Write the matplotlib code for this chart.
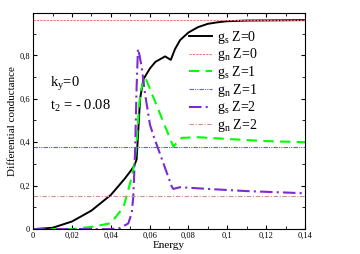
import matplotlib
matplotlib.use("Agg")
import matplotlib.pyplot as plt
from matplotlib.ticker import MultipleLocator, FuncFormatter

plt.rcParams['font.family'] = ['Liberation Serif', 'DejaVu Serif']
plt.rcParams['mathtext.fontset'] = 'custom'
plt.rcParams['mathtext.rm'] = 'Liberation Serif'
plt.rcParams['mathtext.it'] = 'Liberation Serif:italic'

# gs, Z=0
e_s0 = [0, 0.01, 0.02, 0.03, 0.04, 0.047, 0.05, 0.052, 0.0533, 0.0542, 0.0551, 0.0568,
        0.0602, 0.063, 0.0654, 0.068, 0.0709, 0.0731, 0.0757, 0.08, 0.085, 0.09, 0.095,
        0.1, 0.11, 0.14]
g_s0 = [0, 0.006, 0.035, 0.085, 0.157, 0.23, 0.265, 0.29, 0.32, 0.46, 0.60, 0.69,
        0.74, 0.77, 0.782, 0.795, 0.779, 0.829, 0.87, 0.905, 0.93, 0.945, 0.952,
        0.957, 0.96, 0.962]

# gs, Z=1
e_s1 = [0, 0.02, 0.03, 0.04, 0.0465, 0.049, 0.0508, 0.0525, 0.0535, 0.0545, 0.0555,
        0.0577, 0.0722, 0.0765, 0.085, 0.1, 0.12, 0.14]
g_s1 = [0, 0.0, 0.01, 0.027, 0.1, 0.18, 0.24, 0.32, 0.42, 0.56, 0.64,
        0.70, 0.38, 0.42, 0.423, 0.415, 0.405, 0.40]

# gs, Z=2
e_s2 = [0, 0.04, 0.0448, 0.049, 0.0508, 0.0516, 0.0525, 0.0533, 0.054, 0.0548, 0.056,
        0.0577, 0.0602, 0.062, 0.0714, 0.0722, 0.0757, 0.09, 0.11, 0.14]
g_s2 = [0, 0.0, 0.005, 0.026, 0.074, 0.15, 0.35, 0.65, 0.83, 0.80, 0.74,
        0.62, 0.48, 0.43, 0.196, 0.185, 0.193, 0.185, 0.175, 0.165]

# gn (flat normal-state values)
e_n = [0, 0.14]
g_n0 = [0.963, 0.963]
g_n1 = [0.378, 0.378]
g_n2 = [0.151, 0.151]

fig = plt.figure(figsize=(3.6, 2.54), dpi=100)
ax = fig.add_axes([0.092, 0.098, 0.755, 0.851])

ax.plot(e_s0, g_s0, color='black', lw=1.4, ls='-', label=r'g$_\mathrm{s}$ Z=0')
ax.plot(e_n, g_n0, color='#ff7070', lw=0.8, ls=(0, (2, 1)), label=r'g$_\mathrm{n}$ Z=0')
ax.plot(e_s1, g_s1, color='#00ff00', lw=1.5, ls=(0, (5, 3)), label=r'g$_\mathrm{s}$ Z=1')
ax.plot(e_n, g_n1, color='#5a5aff', lw=0.8, ls=(0, (4, 1, 1, 1, 1, 1)), label=r'g$_\mathrm{n}$ Z=1')
ax.plot(e_s2, g_s2, color='#7b2bd0', lw=1.5, ls=(0, (6, 2, 1, 2)), label=r'g$_\mathrm{s}$ Z=2')
ax.plot(e_n, g_n2, color='#c89090', lw=0.8, ls=(0, (4, 1.5, 1, 1.5)), label=r'g$_\mathrm{n}$ Z=2')

ax.set_xlim(0, 0.14)
ax.set_ylim(0, 0.995)
ax.xaxis.set_major_locator(MultipleLocator(0.02))
ax.xaxis.set_minor_locator(MultipleLocator(0.01))
ax.yaxis.set_major_locator(MultipleLocator(0.2))
ax.yaxis.set_minor_locator(MultipleLocator(0.1))
fmt = FuncFormatter(lambda v, p: ('%g' % round(v, 4)).replace('.', ','))
ax.xaxis.set_major_formatter(fmt)
ax.yaxis.set_major_formatter(fmt)
ax.tick_params(which='both', direction='in', top=True, right=True, labelsize=6, pad=2)
ax.tick_params(which='major', length=3)
ax.tick_params(which='minor', length=2)

ax.set_xlabel('Energy', fontsize=8, labelpad=1)
ax.set_ylabel('Differential conductance', fontsize=8, labelpad=2)

ax.text(0.0085, 0.655, r'k$_\mathrm{y}$=0', fontsize=10.5)
ax.text(0.0085, 0.55, r't$_\mathrm{2}$ = - 0.08', fontsize=10.5)

ax.legend(loc='upper left', bbox_to_anchor=(0.565, 0.94), frameon=False, fontsize=10,
          handlelength=1.6, handletextpad=0.4, labelspacing=0.05, borderaxespad=0.0,
          borderpad=0.2)

fig.savefig('out.png', dpi=100)
